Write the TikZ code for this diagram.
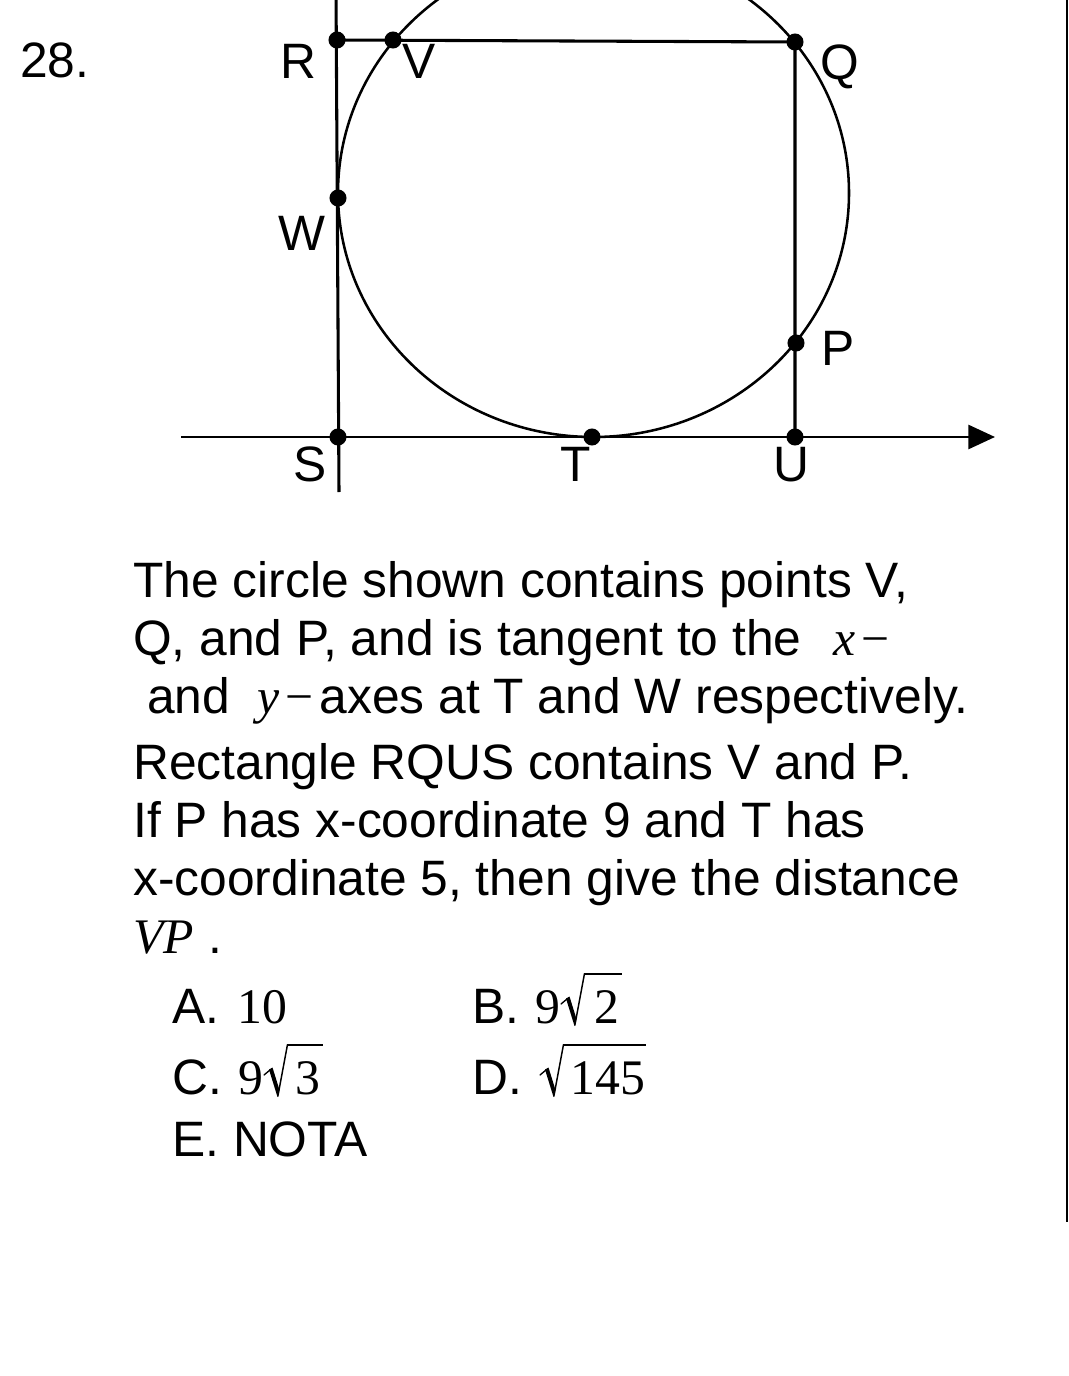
\documentclass[tikz,border=0pt]{standalone}
\usepackage{fontspec}
\setmainfont{Liberation Sans}
\newfontfamily\serif{Liberation Serif}
\usetikzlibrary{arrows.meta}
\newcommand{\mysz}{\fontsize{37.3}{44}\selectfont}
\newcommand{\mi}[1]{{\serif\itshape #1}}
\newcommand{\mr}[1]{{\serif #1}}
\begin{document}
\begin{tikzpicture}[x=0.75pt,y=-0.75pt,
  ln/.style={line width=2.3pt},
  circ/.style={line width=1.9pt},
  dot/.style={circle,fill=black,inner sep=0pt,minimum size=12.8pt},
  lbl/.style={font=\mysz,inner sep=0pt,anchor=base},
  txt/.style={font=\mysz,inner sep=0pt,anchor=base west},
  num/.style={font=\mysz\serif,inner sep=0pt,anchor=base west},
  pics/surd/.style={code={
    \draw[line width=1pt,line cap=round] (0,-19) -- (6,-24);
    \fill (5,-24.5) -- (8.5,-26.5) -- (15.5,-4) -- (13.5,3) -- cycle;
    \draw[line width=1.1pt] (13.8,2.5) -- (23.5,-49.5);
    \draw[line width=2pt] (23,-49) -- (#1,-49);
  }}]
\useasboundingbox (0,0) rectangle (1069,1376);
\clip (0,0) rectangle (1069,1376);
% points
\coordinate (Ytop) at (336,-10);
\coordinate (Ybot) at (339,492);
\coordinate (R) at (337,40);
\coordinate (V) at (393,40);
\coordinate (Q) at (795,42);
\coordinate (W) at (338,198);
\coordinate (P) at (796,343);
\coordinate (S) at (338,437);
\coordinate (T) at (592,437);
\coordinate (U) at (795,437);
\coordinate (Xl) at (181,437);
\coordinate (Xr) at (995,437);
\coordinate (C) at (593.5,193);
\coordinate (Et) at (1067,0);
\coordinate (Eb) at (1067,1222);
% lines
\draw[ln] (Ytop) -- (Ybot);
\draw[ln] (R) -- (Q) -- (U);
\draw[line width=2.1pt,-{Triangle[length=20pt,width=18pt]}] (Xl) -- (Xr);
\draw[circ] (C) ellipse [x radius=255.5, y radius=244];
\draw[line width=1.6pt] (Et) -- (Eb);
% dots
\foreach \p in {R,V,Q,W,P,S,T,U}{\node[dot] (d\p) at (\p) {};}
% labels
\node[txt] (n28) at (20,78) {28.};
\node[lbl] (lR) at (298,79) {R};
\node[lbl] (lV) at (419,79) {V};
\node[lbl] (lQ) at (840,80) {Q};
\node[lbl] (lW) at (302,251) {W};
\node[lbl] (lP) at (838,365) {P};
\node[lbl] (lS) at (310,481) {S};
\node[lbl] (lT) at (576,481) {T};
\node[lbl] (lU) at (791,481) {U};
% text
\node[txt] (t1) at (133,597) {The circle shown contains points V,};
\node[txt] (t2) at (133,655) {Q, and P, and is tangent to the\hspace{0.65em}\mi{x}\hspace{0.12em}\mr{−}};
\node[txt] (t3) at (147,713) {and\hspace{0.55em}\mi{y}\hspace{0.12em}\mr{−}\hspace{0.12em}axes at T and W respectively.};
\node[txt] (t4) at (133,779) {Rectangle RQUS contains V and P.};
\node[txt] (t5) at (133,837) {If P has x-coordinate 9 and T has};
\node[txt] (t6) at (133,895) {x-coordinate 5, then give the distance};
\node[txt] (t7) at (133,953) {\mi{VP}\hspace{0.3em}.};
% answers
\node[txt] (aA) at (172,1023) {A.};
\node[num] (aAv) at (237,1023) {10};
\node[txt] (aB) at (472,1023) {B.};
\node[num] (aB9) at (535,1023) {9};
\pic (sB) at (561,1023) {surd=61};
\node[num] (aB2) at (594,1023) {2};
\node[txt] (aC) at (172,1094) {C.};
\node[num] (aC9) at (238,1094) {9};
\pic (sC) at (264,1094) {surd=59};
\node[num] (aC3) at (295,1094) {3};
\node[txt] (aD) at (472,1094) {D.};
\pic (sD) at (540,1094) {surd=106};
\node[num] (aDv) at (570,1094) {145};
\node[txt] (aE) at (172,1156) {E. NOTA};
\end{tikzpicture}
\end{document}
